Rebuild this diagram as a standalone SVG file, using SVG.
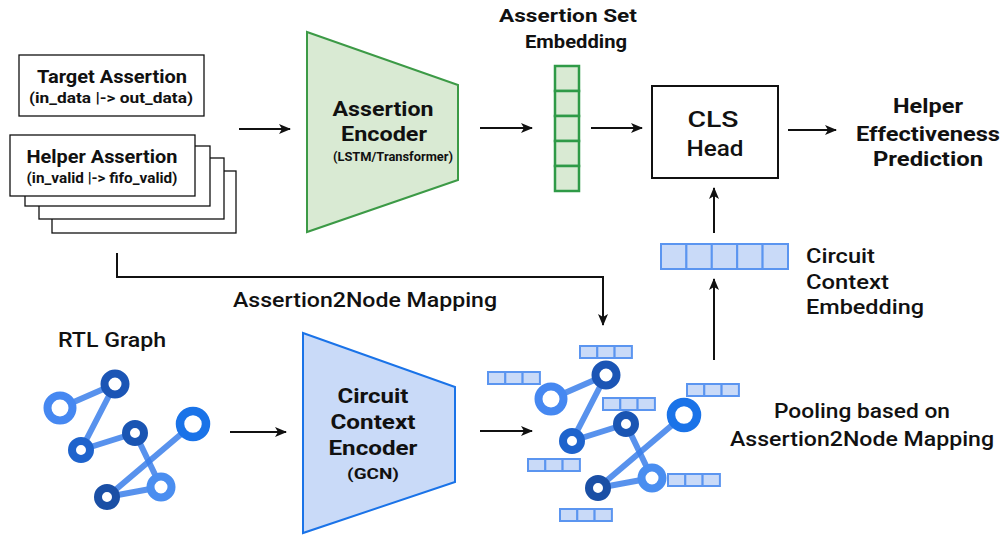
<svg xmlns="http://www.w3.org/2000/svg" width="1004" height="536" viewBox="0 0 1004 536">
  <style>
    text { font-family: Roboto, "Liberation Sans", sans-serif; fill: #111; text-anchor: middle; }
    .b { font-weight: 700; }
    .m { font-weight: 500; }
    .s { text-anchor: start; }
    .box { fill: #fff; stroke: #111; stroke-width: 1.3; }
    .cls { fill: #fff; stroke: #111; stroke-width: 2; }
    .conn { fill: none; stroke: #111; stroke-width: 2; marker-end: url(#ah); }
    .gcell { fill: #d9ead3; stroke: #2f9a47; stroke-width: 2.5; }
    .bcell { fill: #c9daf8; stroke: #5b95f0; stroke-width: 2; }
    .edge { stroke: #3b7fea; stroke-opacity: 0.85; stroke-width: 6; stroke-linecap: round; }
  </style>
  <defs>
    <marker id="ah" viewBox="0 0 12 10" refX="11" refY="5" markerWidth="12" markerHeight="10" markerUnits="userSpaceOnUse" orient="auto">
      <path d="M0,0 L12,5 L0,10 L3,5 Z" fill="#111"/>
    </marker>
    <!-- three-cell node embedding -->
    <g id="vec3">
      <rect class="bcell" x="0" y="0" width="17.3" height="12"/>
      <rect class="bcell" x="17.3" y="0" width="17.3" height="12"/>
      <rect class="bcell" x="34.6" y="0" width="17.3" height="12"/>
    </g>
    <!-- RTL graph icon -->
    <g id="graph">
      <line class="edge" x1="60" y1="408" x2="115" y2="384"/>
      <line class="edge" x1="115" y1="384" x2="81" y2="450"/>
      <line class="edge" x1="81" y1="450" x2="135" y2="433"/>
      <line class="edge" x1="135" y1="433" x2="161" y2="487"/>
      <line class="edge" x1="161" y1="487" x2="107" y2="497"/>
      <line class="edge" x1="107" y1="497" x2="193" y2="424"/>
      <circle cx="60" cy="408" r="12.5" fill="#fff" stroke="#4688f1" stroke-width="8"/>
      <circle cx="115" cy="384" r="10.5" fill="#fff" stroke="#1b55b5" stroke-width="8"/>
      <circle cx="81" cy="450" r="9" fill="#fff" stroke="#1e63cc" stroke-width="8"/>
      <circle cx="135" cy="433" r="9" fill="#fff" stroke="#1a55b3" stroke-width="8"/>
      <circle cx="193" cy="424" r="13" fill="#fff" stroke="#1a73e8" stroke-width="8.5"/>
      <circle cx="161" cy="487" r="10.5" fill="#fff" stroke="#4a8ef0" stroke-width="8"/>
      <circle cx="107" cy="497" r="9" fill="#fff" stroke="#1a4fa5" stroke-width="8"/>
    </g>
  </defs>

  <!-- connectors -->
  <g id="connectors">
    <line class="conn" x1="239" y1="129" x2="290" y2="129"/>
    <line class="conn" x1="480" y1="128" x2="532" y2="128"/>
    <line class="conn" x1="591" y1="128" x2="642" y2="128"/>
    <line class="conn" x1="788" y1="130" x2="836" y2="130"/>
    <line class="conn" x1="714" y1="233" x2="714" y2="188"/>
    <line class="conn" x1="714" y1="360" x2="714" y2="279"/>
    <polyline class="conn" points="117,253 117,277 603,277 603,325"/>
    <line class="conn" x1="230" y1="432" x2="286" y2="432"/>
    <line class="conn" x1="480" y1="431" x2="532" y2="431"/>
  </g>

  <!-- target assertion -->
  <g id="target-assertion">
    <rect class="box" x="19" y="55" width="185" height="61"/>
    <text class="b" x="112" y="83" font-size="18" textLength="150" lengthAdjust="spacingAndGlyphs">Target Assertion</text>
    <text class="b" x="111" y="103" font-size="14.5" textLength="164" lengthAdjust="spacingAndGlyphs">(in_data |-&gt; out_data)</text>
  </g>

  <!-- helper assertion stack -->
  <g id="helper-assertions">
    <rect class="box" x="52" y="171" width="184" height="62"/>
    <rect class="box" x="39" y="158" width="185" height="61"/>
    <rect class="box" x="25" y="146" width="185" height="60"/>
    <rect class="box" x="10" y="135" width="185" height="61"/>
    <text class="b" x="102" y="163" font-size="18" textLength="151" lengthAdjust="spacingAndGlyphs">Helper Assertion</text>
    <text class="b" x="102" y="183" font-size="14" textLength="151" lengthAdjust="spacingAndGlyphs">(in_valid |-&gt; fifo_valid)</text>
  </g>

  <!-- assertion encoder -->
  <g id="assertion-encoder">
    <polygon points="307,32 458,85 458,180 307,232" fill="#d9ead3" stroke="#3c9a46" stroke-width="2"/>
    <text class="b" x="383" y="116" font-size="20" textLength="101" lengthAdjust="spacingAndGlyphs">Assertion</text>
    <text class="b" x="384" y="141" font-size="20" textLength="86" lengthAdjust="spacingAndGlyphs">Encoder</text>
    <text class="b" x="393" y="161" font-size="13" textLength="120" lengthAdjust="spacingAndGlyphs">(LSTM/Transformer)</text>
  </g>

  <!-- assertion set embedding -->
  <g id="assertion-set-embedding">
    <text class="b" x="568" y="22" font-size="19" textLength="138" lengthAdjust="spacingAndGlyphs">Assertion Set</text>
    <text class="b" x="576" y="48" font-size="19" textLength="102" lengthAdjust="spacingAndGlyphs">Embedding</text>
    <rect class="gcell" x="555" y="66" width="24" height="25"/>
    <rect class="gcell" x="555" y="91" width="24" height="25"/>
    <rect class="gcell" x="555" y="116" width="24" height="25"/>
    <rect class="gcell" x="555" y="141" width="24" height="25"/>
    <rect class="gcell" x="555" y="166" width="24" height="25"/>
  </g>

  <!-- CLS head -->
  <g id="cls-head">
    <rect class="cls" x="652" y="86" width="126" height="92"/>
    <text class="m" x="713" y="127" font-size="22" textLength="51" lengthAdjust="spacingAndGlyphs">CLS</text>
    <text class="m" x="715" y="156" font-size="22" textLength="57" lengthAdjust="spacingAndGlyphs">Head</text>
  </g>

  <!-- prediction output -->
  <g id="prediction">
    <text class="b" x="928" y="113" font-size="20.5" textLength="70" lengthAdjust="spacingAndGlyphs">Helper</text>
    <text class="b" x="928" y="141" font-size="20.5" textLength="144" lengthAdjust="spacingAndGlyphs">Effectiveness</text>
    <text class="b" x="928" y="166" font-size="20.5" textLength="110" lengthAdjust="spacingAndGlyphs">Prediction</text>
  </g>

  <!-- circuit context embedding -->
  <g id="circuit-context-embedding">
    <rect class="bcell" x="661" y="244" width="25.4" height="25"/>
    <rect class="bcell" x="686.4" y="244" width="25.4" height="25"/>
    <rect class="bcell" x="711.8" y="244" width="25.4" height="25"/>
    <rect class="bcell" x="737.2" y="244" width="25.4" height="25"/>
    <rect class="bcell" x="762.6" y="244" width="25.4" height="25"/>
    <text class="m s" x="806" y="263" font-size="21" textLength="69" lengthAdjust="spacingAndGlyphs">Circuit</text>
    <text class="m s" x="806" y="289" font-size="21" textLength="83" lengthAdjust="spacingAndGlyphs">Context</text>
    <text class="m s" x="806" y="314" font-size="21" textLength="118" lengthAdjust="spacingAndGlyphs">Embedding</text>
  </g>

  <!-- mapping label -->
  <g id="mapping-label">
    <text class="m" x="365" y="307" font-size="20" textLength="264" lengthAdjust="spacingAndGlyphs">Assertion2Node Mapping</text>
  </g>

  <!-- RTL graph -->
  <g id="rtl-graph">
    <text class="m" x="112" y="347" font-size="21" textLength="108" lengthAdjust="spacingAndGlyphs">RTL Graph</text>
    <use href="#graph"/>
  </g>

  <!-- circuit context encoder -->
  <g id="circuit-context-encoder">
    <polygon points="303,333 455,387 455,482 303,533" fill="#c9daf8" stroke="#1a73e8" stroke-width="2"/>
    <text class="b" x="373" y="403" font-size="20.5" textLength="71" lengthAdjust="spacingAndGlyphs">Circuit</text>
    <text class="b" x="373" y="429" font-size="20.5" textLength="85" lengthAdjust="spacingAndGlyphs">Context</text>
    <text class="b" x="373" y="455" font-size="20.5" textLength="89" lengthAdjust="spacingAndGlyphs">Encoder</text>
    <text class="b" x="373" y="479" font-size="14.5" textLength="52" lengthAdjust="spacingAndGlyphs">(GCN)</text>
  </g>

  <!-- encoded graph with node embeddings -->
  <g id="encoded-graph">
    <use href="#graph" transform="translate(491,-9)"/>
    <use href="#vec3" x="488" y="372"/>
    <use href="#vec3" x="580" y="346"/>
    <use href="#vec3" x="603" y="398"/>
    <use href="#vec3" x="687" y="384"/>
    <use href="#vec3" x="528" y="459"/>
    <use href="#vec3" x="668" y="474"/>
    <use href="#vec3" x="560" y="509"/>
  </g>

  <!-- pooling label -->
  <g id="pooling-label">
    <text class="m" x="862" y="418" font-size="20.5" textLength="176" lengthAdjust="spacingAndGlyphs">Pooling based on</text>
    <text class="m" x="862" y="446" font-size="20.5" textLength="264" lengthAdjust="spacingAndGlyphs">Assertion2Node Mapping</text>
  </g>
</svg>
